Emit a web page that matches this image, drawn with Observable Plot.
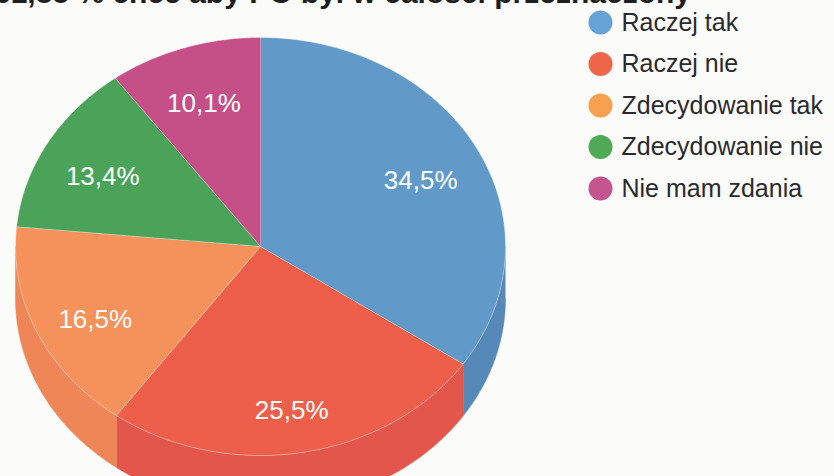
<!DOCTYPE html>
<html>
<head>
<meta charset="utf-8">
<script src="https://cdn.jsdelivr.net/npm/d3@7"></script>
<script src="https://cdn.jsdelivr.net/npm/@observablehq/plot@0.6"></script>
<style>
  html, body { margin: 0; padding: 0; background: #fbfbf9; overflow: hidden; width: 834px; height: 476px; }
  #wrap { position: relative; width: 834px; height: 476px; overflow: hidden; }
  #title { position: absolute; left: -6px; top: -22px; font-family: "Liberation Sans", Arial, sans-serif; font-weight: bold; font-size: 30px; line-height: 30px; color: #1e1e1e; white-space: nowrap; }
  #chart { position: absolute; left: 0; top: 0; }
  svg { overflow: hidden; }
</style>
</head>
<body>
<div id="wrap">
  <div id="chart"></div>
  <div id="title">61,85 % chce aby PO był w całości przeznaczony</div>
</div>
<script>
// ---- data ----
const categories = ["Raczej tak", "Raczej nie", "Zdecydowanie tak", "Zdecydowanie nie", "Nie mam zdania"];
const values = [34.5, 25.5, 16.5, 13.4, 10.1];
const valueLabels = ["34,5%", "25,5%", "16,5%", "13,4%", "10,1%"];
const topColors = ["#6199c9", "#ed5f4a", "#f5915b", "#4ba35a", "#c45087"];
const sideColors = ["#5688b8", "#e2564b", "#ee8658", "#3f8e4d", "#a94474"];
const legendColors = ["#67a2d6", "#ef6548", "#f7a050", "#4fa957", "#c4558e"];

// ---- layout ----
const W = 834, H = 476;
const cx = 260, cy = 246, rx = 245, ry = 209, depth = 52;

function pt(deg, dz = 0) {
  const r = deg * Math.PI / 180;
  return { x: cx + rx * Math.sin(r), y: cy - ry * Math.cos(r) + dz };
}

const total = d3.sum(values);
const cum = [0, ...d3.cumsum(values)];
const slices = values.map((v, i) => ({
  i, a0: cum[i] / total * 360, a1: cum[i + 1] / total * 360
}));

function arc(a0, a1, dz = 0) {
  const n = Math.max(2, Math.ceil((a1 - a0) / 1));
  return d3.range(n + 1).map(k => pt(a0 + (a1 - a0) * k / n, dz));
}

const marks = [];
// sides (front half only)
slices.forEach(s => {
  const lo = Math.max(s.a0, 90), hi = Math.min(s.a1, 270);
  if (lo < hi) {
    const pts = [...arc(lo, hi), ...arc(lo, hi, depth).reverse()];
    marks.push(Plot.line(pts, { x: "x", y: "y", fill: sideColors[s.i], stroke: sideColors[s.i], strokeWidth: 0.5, curve: "linear" }));
  }
});
// top faces
slices.forEach(s => {
  const pts = [{ x: cx, y: cy }, ...arc(s.a0, s.a1)];
  marks.push(Plot.line(pts, { x: "x", y: "y", fill: topColors[s.i], stroke: "#ffffff", strokeOpacity: 0.35, strokeWidth: 1, curve: "linear" }));
});
// value labels
const labelData = slices.map(s => {
  const m = (s.a0 + s.a1) / 2 * Math.PI / 180;
  return { x: cx + rx * 0.74 * Math.sin(m), y: cy + 8 - ry * 0.76 * Math.cos(m), t: valueLabels[s.i] };
});
marks.push(Plot.text(labelData, { x: "x", y: "y", text: "t", fill: "white", fontSize: 26, fontFamily: "Liberation Sans, Arial, sans-serif", textAnchor: "middle", lineAnchor: "middle" }));

// legend
const legendData = categories.map((c, i) => ({ c, i, x: 600, y: 22 + i * 41.5 }));
marks.push(Plot.dot(legendData, { x: "x", y: "y", r: 12, fill: (d) => legendColors[d.i], stroke: "none" }));
marks.push(Plot.text(legendData, { x: d => d.x + 21, y: "y", text: "c", fill: "#2a2a2e", fontSize: 25, fontFamily: "Liberation Sans, Arial, sans-serif", textAnchor: "start", lineAnchor: "middle" }));

const chart = Plot.plot({
  width: W, height: H,
  margin: 0,
  style: { background: "transparent", overflow: "hidden" },
  x: { domain: [0, W], range: [0, W], axis: null },
  y: { domain: [0, H], range: [0, H], axis: null },
  color: { type: "identity" },
  marks
});
document.getElementById("chart").appendChild(chart);
</script>
</body>
</html>
